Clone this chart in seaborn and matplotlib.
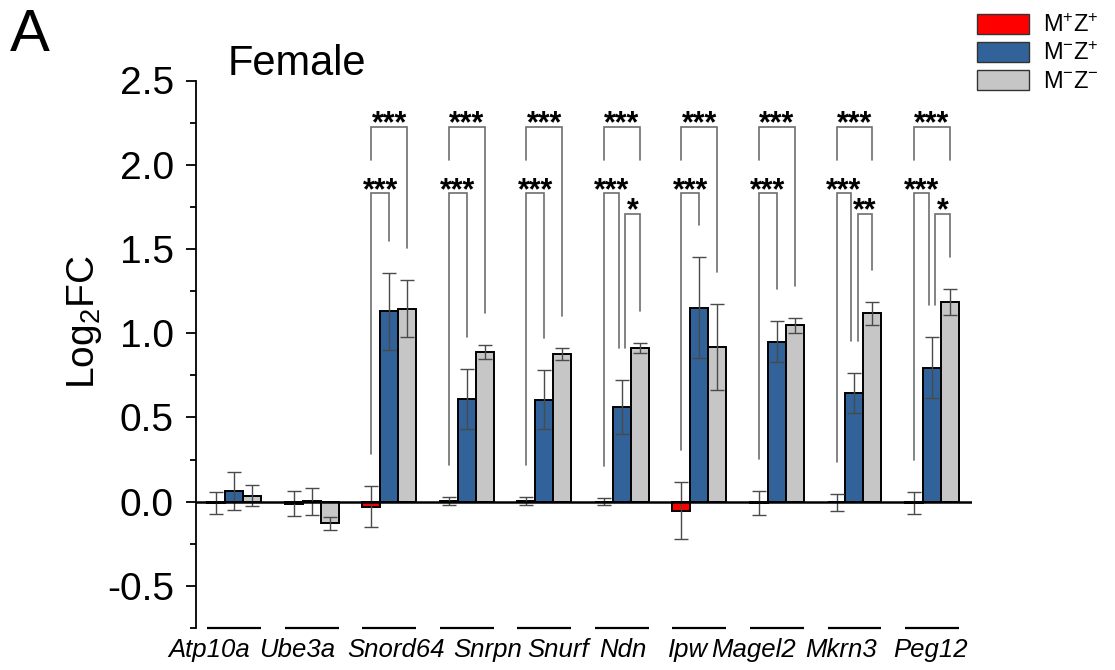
import matplotlib
matplotlib.use("Agg")
import matplotlib.pyplot as plt
from matplotlib.patches import Patch
from matplotlib.ticker import MultipleLocator, FixedLocator
from matplotlib.transforms import ScaledTranslation
import numpy as np
import pandas as pd
import seaborn as sns

# ---------------- data ----------------
genes = ['Atp10a', 'Ube3a', 'Snord64', 'Snrpn', 'Snurf', 'Ndn', 'Ipw', 'Magel2', 'Mkrn3', 'Peg12']
groups = ['M+Z+', 'M-Z+', 'M-Z-']
group_labels = ['M$^{+}$Z$^{+}$', 'M$^{-}$Z$^{+}$', 'M$^{-}$Z$^{-}$']

mpzp = [-0.010, -0.013, -0.030, 0.003, 0.003, 0.000, -0.053, -0.010, -0.005, -0.010]
mpzp_err = [0.066, 0.074, 0.120, 0.025, 0.025, 0.020, 0.170, 0.072, 0.050, 0.065]
mmzp = [0.063, 0.003, 1.130, 0.610, 0.605, 0.562, 1.150, 0.950, 0.645, 0.795]
mmzp_err = [0.115, 0.080, 0.230, 0.180, 0.175, 0.160, 0.300, 0.120, 0.120, 0.180]
mmzm = [0.036, -0.129, 1.146, 0.888, 0.878, 0.912, 0.920, 1.048, 1.118, 1.185]
mmzm_err = [0.063, 0.039, 0.170, 0.040, 0.035, 0.030, 0.255, 0.045, 0.070, 0.075]

# significance labels ('' = no bracket)
sig_pp_vs_mm = ['', '', '***', '***', '***', '***', '***', '***', '***', '***']
sig_pp_vs_mp = ['', '', '***', '***', '***', '***', '***', '***', '***', '***']
sig_mp_vs_mm = ['', '', '', '', '', '*', '', '', '**', '*']

colors = ['#FF0000', '#31629A', '#C6C6C6']

# horizontal nudges (pixels) of the gene labels, as laid out in the original figure
label_shift_px = [-25, -14, 7, 21, 14, 1, -11, -23, -13, -2]

# ---------------- styling ----------------
sns.set_style('ticks')
plt.rcParams['font.family'] = ['Liberation Sans', 'DejaVu Sans']
plt.rcParams['mathtext.fontset'] = 'custom'
plt.rcParams['mathtext.rm'] = 'Liberation Sans'
plt.rcParams['mathtext.it'] = 'Liberation Sans:italic'
plt.rcParams['mathtext.bf'] = 'Liberation Sans:bold'
for key in ['text.color', 'axes.labelcolor', 'xtick.color', 'ytick.color', 'axes.edgecolor']:
    plt.rcParams[key] = 'black'

df = pd.DataFrame({
    'gene': genes * 3,
    'group': [groups[0]] * 10 + [groups[1]] * 10 + [groups[2]] * 10,
    'value': mpzp + mmzp + mmzm,
    'err': mpzp_err + mmzp_err + mmzm_err,
})

fig = plt.figure(figsize=(11.15, 6.70), dpi=100)
ax = fig.add_axes([196 / 1115, 1 - 628 / 670, 776 / 1115, (628 - 80.5) / 670])

sns.barplot(data=df, x='gene', y='value', hue='group', order=genes, hue_order=groups,
            palette=colors, width=0.696, errorbar=None, edgecolor='black',
            linewidth=1.4, saturation=1, legend=False, ax=ax)

# bar centers per group from seaborn containers
centers = []
for cont in ax.containers:
    centers.append(np.array([p.get_x() + p.get_width() / 2 for p in cont.patches]))

errs = [mpzp_err, mmzp_err, mmzm_err]
vals = [mpzp, mmzp, mmzm]
for k in range(3):
    ax.errorbar(centers[k], vals[k], yerr=errs[k], fmt='none', ecolor='#4a4a4a',
                elinewidth=1.0, capsize=5, capthick=1.0, zorder=4)

ax.axhline(0, color='black', lw=1.8, zorder=5)

# axes formatting
ax.set_xlim(-0.49, 9.515)
ax.set_ylim(-0.75, 2.5)
ax.yaxis.set_major_locator(FixedLocator([-0.5, 0.0, 0.5, 1.0, 1.5, 2.0, 2.5]))
ax.yaxis.set_minor_locator(MultipleLocator(0.25))
ax.set_yticklabels(['-0.5', '0.0', '0.5', '1.0', '1.5', '2.0', '2.5'])
ax.tick_params(axis='y', which='major', labelsize=28, length=7, width=1.3, pad=9, direction='out')
ax.tick_params(axis='y', which='minor', length=4, width=1.3, direction='out')
ax.tick_params(axis='x', length=0, pad=7)
for lab, sh in zip(ax.get_xticklabels(), label_shift_px):
    lab.set_fontstyle('italic')
    lab.set_fontsize(18.5)
    lab.set_transform(lab.get_transform() + ScaledTranslation(sh / 100, 0, fig.dpi_scale_trans))
for s in ['top', 'right', 'bottom']:
    ax.spines[s].set_visible(False)
ax.spines['left'].set_linewidth(1.3)
ax.set_xlabel('')
ax.set_ylabel('Log$_2$FC', fontsize=28)
ax.yaxis.set_label_coords(-0.119, 0.558)

# broken x-axis segments under each group
xt = np.arange(len(genes), dtype=float)
ax.hlines(np.full(len(genes), -0.75), xt - 0.348, xt + 0.348, colors='black', lw=1.6,
          clip_on=False)

# significance brackets
br_col = '#6e6e6e'
br_lw = 1.2
y_top, y_mid, y_third = 2.225, 1.83, 1.71
short_end = 2.03
gap = 0.19
star_fs = 22
star_off = 0.035


def bracket(x1, x2, y, yl1, yl2, txt):
    ax.plot([x1, x1, x2, x2], [yl1, y, y, yl2], color=br_col, lw=br_lw, zorder=3,
            solid_joinstyle='miter')
    ax.text((x1 + x2) / 2, y - star_off, txt, ha='center', va='baseline',
            fontsize=star_fs, fontweight='bold', color='black')


for i in range(len(genes)):
    xr, xb, xg = centers[0][i], centers[1][i], centers[2][i]
    top_r = mpzp[i] + mpzp_err[i] + gap
    top_b = mmzp[i] + mmzp_err[i] + gap
    top_g = mmzm[i] + mmzm_err[i] + gap
    has3 = sig_mp_vs_mm[i] != ''
    if sig_pp_vs_mm[i]:
        gray_end = short_end if has3 else top_g
        bracket(xr, xg, y_top, short_end, gray_end, sig_pp_vs_mm[i])
    if sig_pp_vs_mp[i]:
        xb2 = xb - 0.04 if has3 else xb
        bracket(xr, xb2, y_mid, top_r, top_b, sig_pp_vs_mp[i])
    if has3:
        bracket(xb + 0.04, xg, y_third, top_b, top_g, sig_mp_vs_mm[i])

# legend
handles = [Patch(facecolor=c, edgecolor='#333333', linewidth=1.0) for c in colors]
fig.legend(handles, group_labels, loc='upper left', bbox_to_anchor=(977 / 1115, 1 - 14 / 670),
           frameon=False, fontsize=17, handlelength=2.2, handleheight=0.9,
           labelspacing=0.22, handletextpad=0.6, borderpad=0, borderaxespad=0)

# titles
fig.text(10 / 1115, 1 - 51 / 670, 'A', fontsize=43, ha='left', va='baseline')
fig.text(228 / 1115, 1 - 75 / 670, 'Female', fontsize=30, ha='left', va='baseline')

fig.savefig('out.png', dpi=100)
